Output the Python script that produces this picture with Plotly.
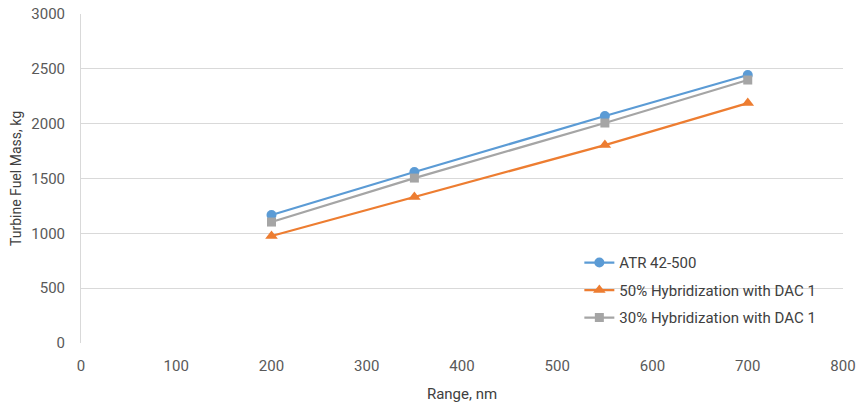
import plotly.graph_objects as go

ranges = [200, 350, 550, 700]
atr = [1167, 1559, 2070, 2444]
hyb50 = [976, 1331, 1805, 2188]
hyb30 = [1103, 1504, 2006, 2398]

font_family = "Roboto, Arial"

fig = go.Figure()
fig.add_trace(go.Scatter(x=ranges, y=atr, mode="lines+markers", name="ATR 42-500",
                         legendgroup="a",
                         line=dict(color="#5B9BD5", width=2.25),
                         marker=dict(symbol="circle", size=10, color="#5B9BD5")))
fig.add_trace(go.Scatter(x=ranges, y=hyb50, mode="lines+markers", name="50% Hybridization with DAC 1",
                         legendgroup="b",
                         line=dict(color="#ED7D31", width=2.25),
                         marker=dict(symbol="triangle-up", size=11, color="#ED7D31")))
fig.add_trace(go.Scatter(x=ranges, y=hyb30, mode="lines+markers", name="30% Hybridization with DAC 1",
                         legendgroup="c",
                         line=dict(color="#A5A5A5", width=2.25),
                         marker=dict(symbol="square", size=9, color="#A5A5A5")))

fig.update_layout(
    width=859, height=404,
    margin=dict(l=81, r=16, t=14, b=61, autoexpand=False),
    plot_bgcolor="white", paper_bgcolor="white",
    font=dict(family=font_family, size=14, color="#595959"),
    showlegend=True,
    legend=dict(x=0.654, y=0.294, xanchor="left", yanchor="top",
                bgcolor="rgba(0,0,0,0)", font=dict(size=15, color="#404040"),
                tracegroupgap=5, itemwidth=30),
    xaxis=dict(range=[0, 800], dtick=100, showgrid=False, zeroline=False,
               showline=False, ticks="", ticklabelstandoff=12, automargin=False,
               tickfont=dict(size=15),
               title=dict(text="Range, nm", font=dict(size=15, color="#404040"), standoff=14)),
    yaxis=dict(range=[0, 3000], dtick=500, showgrid=True, gridcolor="#D9D9D9", gridwidth=1,
               zeroline=False, showline=True, linecolor="#D9D9D9", linewidth=1, ticks="",
               ticklabelstandoff=12, automargin=False, tickfont=dict(size=15),
               title=dict(text="Turbine Fuel Mass, kg", font=dict(size=14, color="#404040"), standoff=6)),
)

fig.write_html("out.html")
